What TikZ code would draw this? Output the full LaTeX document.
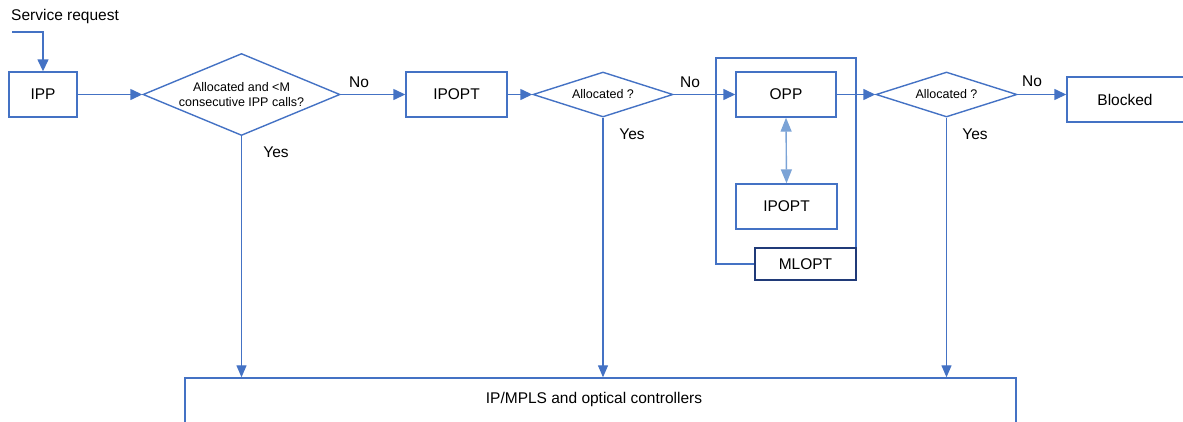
\documentclass[tikz,border=0pt]{standalone}
\usepackage{fontspec}
\setmainfont{Liberation Sans}
\usetikzlibrary{arrows.meta,shapes.geometric}
\definecolor{mblue}{HTML}{4472C4}
\definecolor{lblue}{HTML}{7BA3D6}
\definecolor{navy}{HTML}{203A78}
\tikzset{
  line/.style={draw=mblue,line width=1.4pt},
  arr/.style={line,-{Triangle[length=12pt,width=11pt]}},
  darr/.style={draw=mblue,line width=1.3pt,-{Triangle[length=12pt,width=10pt]}},
  dbl/.style={draw=lblue,line width=1.4pt,{Triangle[length=14pt,width=11pt]}-{Triangle[length=14pt,width=11pt]}},
  box/.style={draw=mblue,line width=1.4pt,fill=white,inner sep=0pt,font=\fontsize{15.5}{18}\selectfont},
  dia/.style={draw=mblue,line width=1.4pt,diamond,inner sep=0pt,aspect=3},
  big/.style={inner sep=0pt,font=\fontsize{15.5}{18}\selectfont},
  small/.style={inner sep=0pt,align=center,font=\fontsize{12.5}{15}\selectfont},
}
\begin{document}
\begin{tikzpicture}[x=1pt,y=-1pt]
\useasboundingbox (0,0) rectangle (1183,421);
\clip (0,0) rectangle (1183,421);
% title
\node[big,anchor=west] (sr) at (11,16) {Service request};
\coordinate (start) at (12,32);
% boxes
\node[box,minimum width=68pt,minimum height=45pt] (ipp) at (43,94.5) {IPP};
\node[box,minimum width=101pt,minimum height=45pt] (ipopt) at (456.5,94.5) {IPOPT};
\node[draw=mblue,line width=1.4pt,inner sep=0pt,minimum width=140pt,minimum height=206pt] (mlc) at (786,161) {};
\node[box,minimum width=100pt,minimum height=45pt] (opp) at (786,94.5) {OPP};
\node[box,minimum width=101pt,minimum height=45pt] (ipopt2) at (786.5,206.5) {IPOPT};
\node[box,draw=navy,minimum width=101pt,minimum height=32pt] (mlopt) at (805.5,264) {MLOPT};
\node[box,minimum width=140pt,minimum height=45pt] (blk) at (1137,99.5) {\hspace*{-24pt}Blocked};
\node[box,minimum width=831pt,minimum height=80pt] (ctl) at (600.5,418) {};
\node[big] (ctltxt) at (594,399) {IP/MPLS and optical controllers};
% diamonds
\node[dia,minimum width=197pt,minimum height=82pt] (d1) at (241.5,94.5) {};
\node[small] (d1t) at (241.5,94.5) {Allocated and <M\\consecutive IPP calls?};
\node[dia,minimum width=140pt,minimum height=45pt] (d2) at (603,94.5) {};
\node[small] (d2t) at (603,94.5) {Allocated ?};
\node[dia,minimum width=141pt,minimum height=45pt] (d3) at (946.5,94.5) {};
\node[small] (d3t) at (946.5,94.5) {Allocated ?};
% labels
\node[big] (no1) at (359,82) {No};
\node[big] (no2) at (690,82) {No};
\node[big] (no3) at (1032,81) {No};
\node[big] (y1) at (276,152) {Yes};
\node[big] (y2) at (632,134) {Yes};
\node[big] (y3) at (975,134) {Yes};
% connectors
\draw[arr] (start) -| (ipp.north);
\draw[arr] (ipp.east) -- (d1.west);
\draw[arr] (d1.east) -- (ipopt.west);
\draw[arr] (ipopt.east) -- (d2.west);
\draw[arr] (d2.east) -- (opp.west);
\draw[arr] (opp.east) -- (d3.west);
\draw[arr] (d3.east) -- (d3.east -| blk.west);
\draw[dbl] (opp.south) -- (ipopt2.north);
\draw[darr] (d1.south) -- (d1.south |- ctl.north);
\draw[darr] (d2.south) -- (d2.south |- ctl.north);
\draw[darr] (d3.south) -- (d3.south |- ctl.north);
\end{tikzpicture}
\end{document}
